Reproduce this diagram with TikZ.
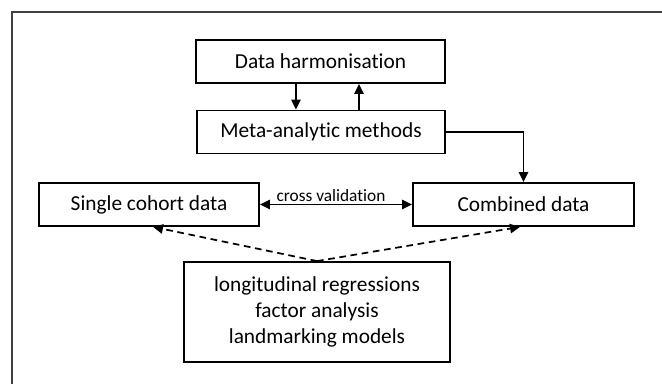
\documentclass[tikz,border=0pt]{standalone}
\usepackage{fontspec}
\setmainfont{Carlito}[Ligatures={NoCommon}]
\usetikzlibrary{arrows.meta}

\begin{document}
\begin{tikzpicture}[
   x=0.75pt, y=-0.75pt,
   box/.style={draw, line width=1.35pt, minimum height=32.25pt, inner sep=0pt, font=\fontsize{16}{19.5}\selectfont},
   arrow/.style={-{Triangle[length=7.5pt,width=7pt]}, line width=1.3pt},
   twoway/.style={{Triangle[length=7.5pt,width=7pt]}-{Triangle[length=7.5pt,width=7pt]}, line width=1.3pt},
   dasharrow/.style={arrow, dash pattern=on 5pt off 3.5pt}
]
\useasboundingbox (0,0) rectangle (662,384);
% Frame
\draw[line width=0.8pt, black!75] (12,384) -- (12,12) -- (662,12);

% Top
\node[box, minimum width=186.75pt] (harm) at (320.5,61.5) {Data harmonisation};
\node[box, minimum width=186pt] (meta) at (321,132) {Meta-analytic methods};
\draw[arrow] ([xshift=-18.4pt]harm.south) -- ([xshift=-18.4pt]harm.south |- meta.north);
\draw[arrow] ([xshift=28.5pt]meta.north) -- ([xshift=28.5pt]meta.north |- harm.south);

% Data
\node[box, minimum width=165pt] (single) at (149,204.5) {Single cohort data};
\node[box, minimum width=165.75pt] (comb) at (523.5,204.5) {Combined data};
\draw[arrow] (meta.east) -| (comb.north);
\draw[twoway] (single.east) -- node[above, inner sep=1.5pt, xshift=-3.75pt, font=\fontsize{13}{15}\selectfont] {cross validation} (comb.west);

% Models
\node[box, minimum width=199.5pt, minimum height=75pt, align=center] (models) at (317,312) {longitudinal regressions\\factor analysis\\landmarking models};
\draw[dasharrow] (models.north) -- ([xshift=3pt]single.south);
\draw[dasharrow] (models.north) -- ([xshift=-2.6pt]comb.south);

\end{tikzpicture}
\end{document}
